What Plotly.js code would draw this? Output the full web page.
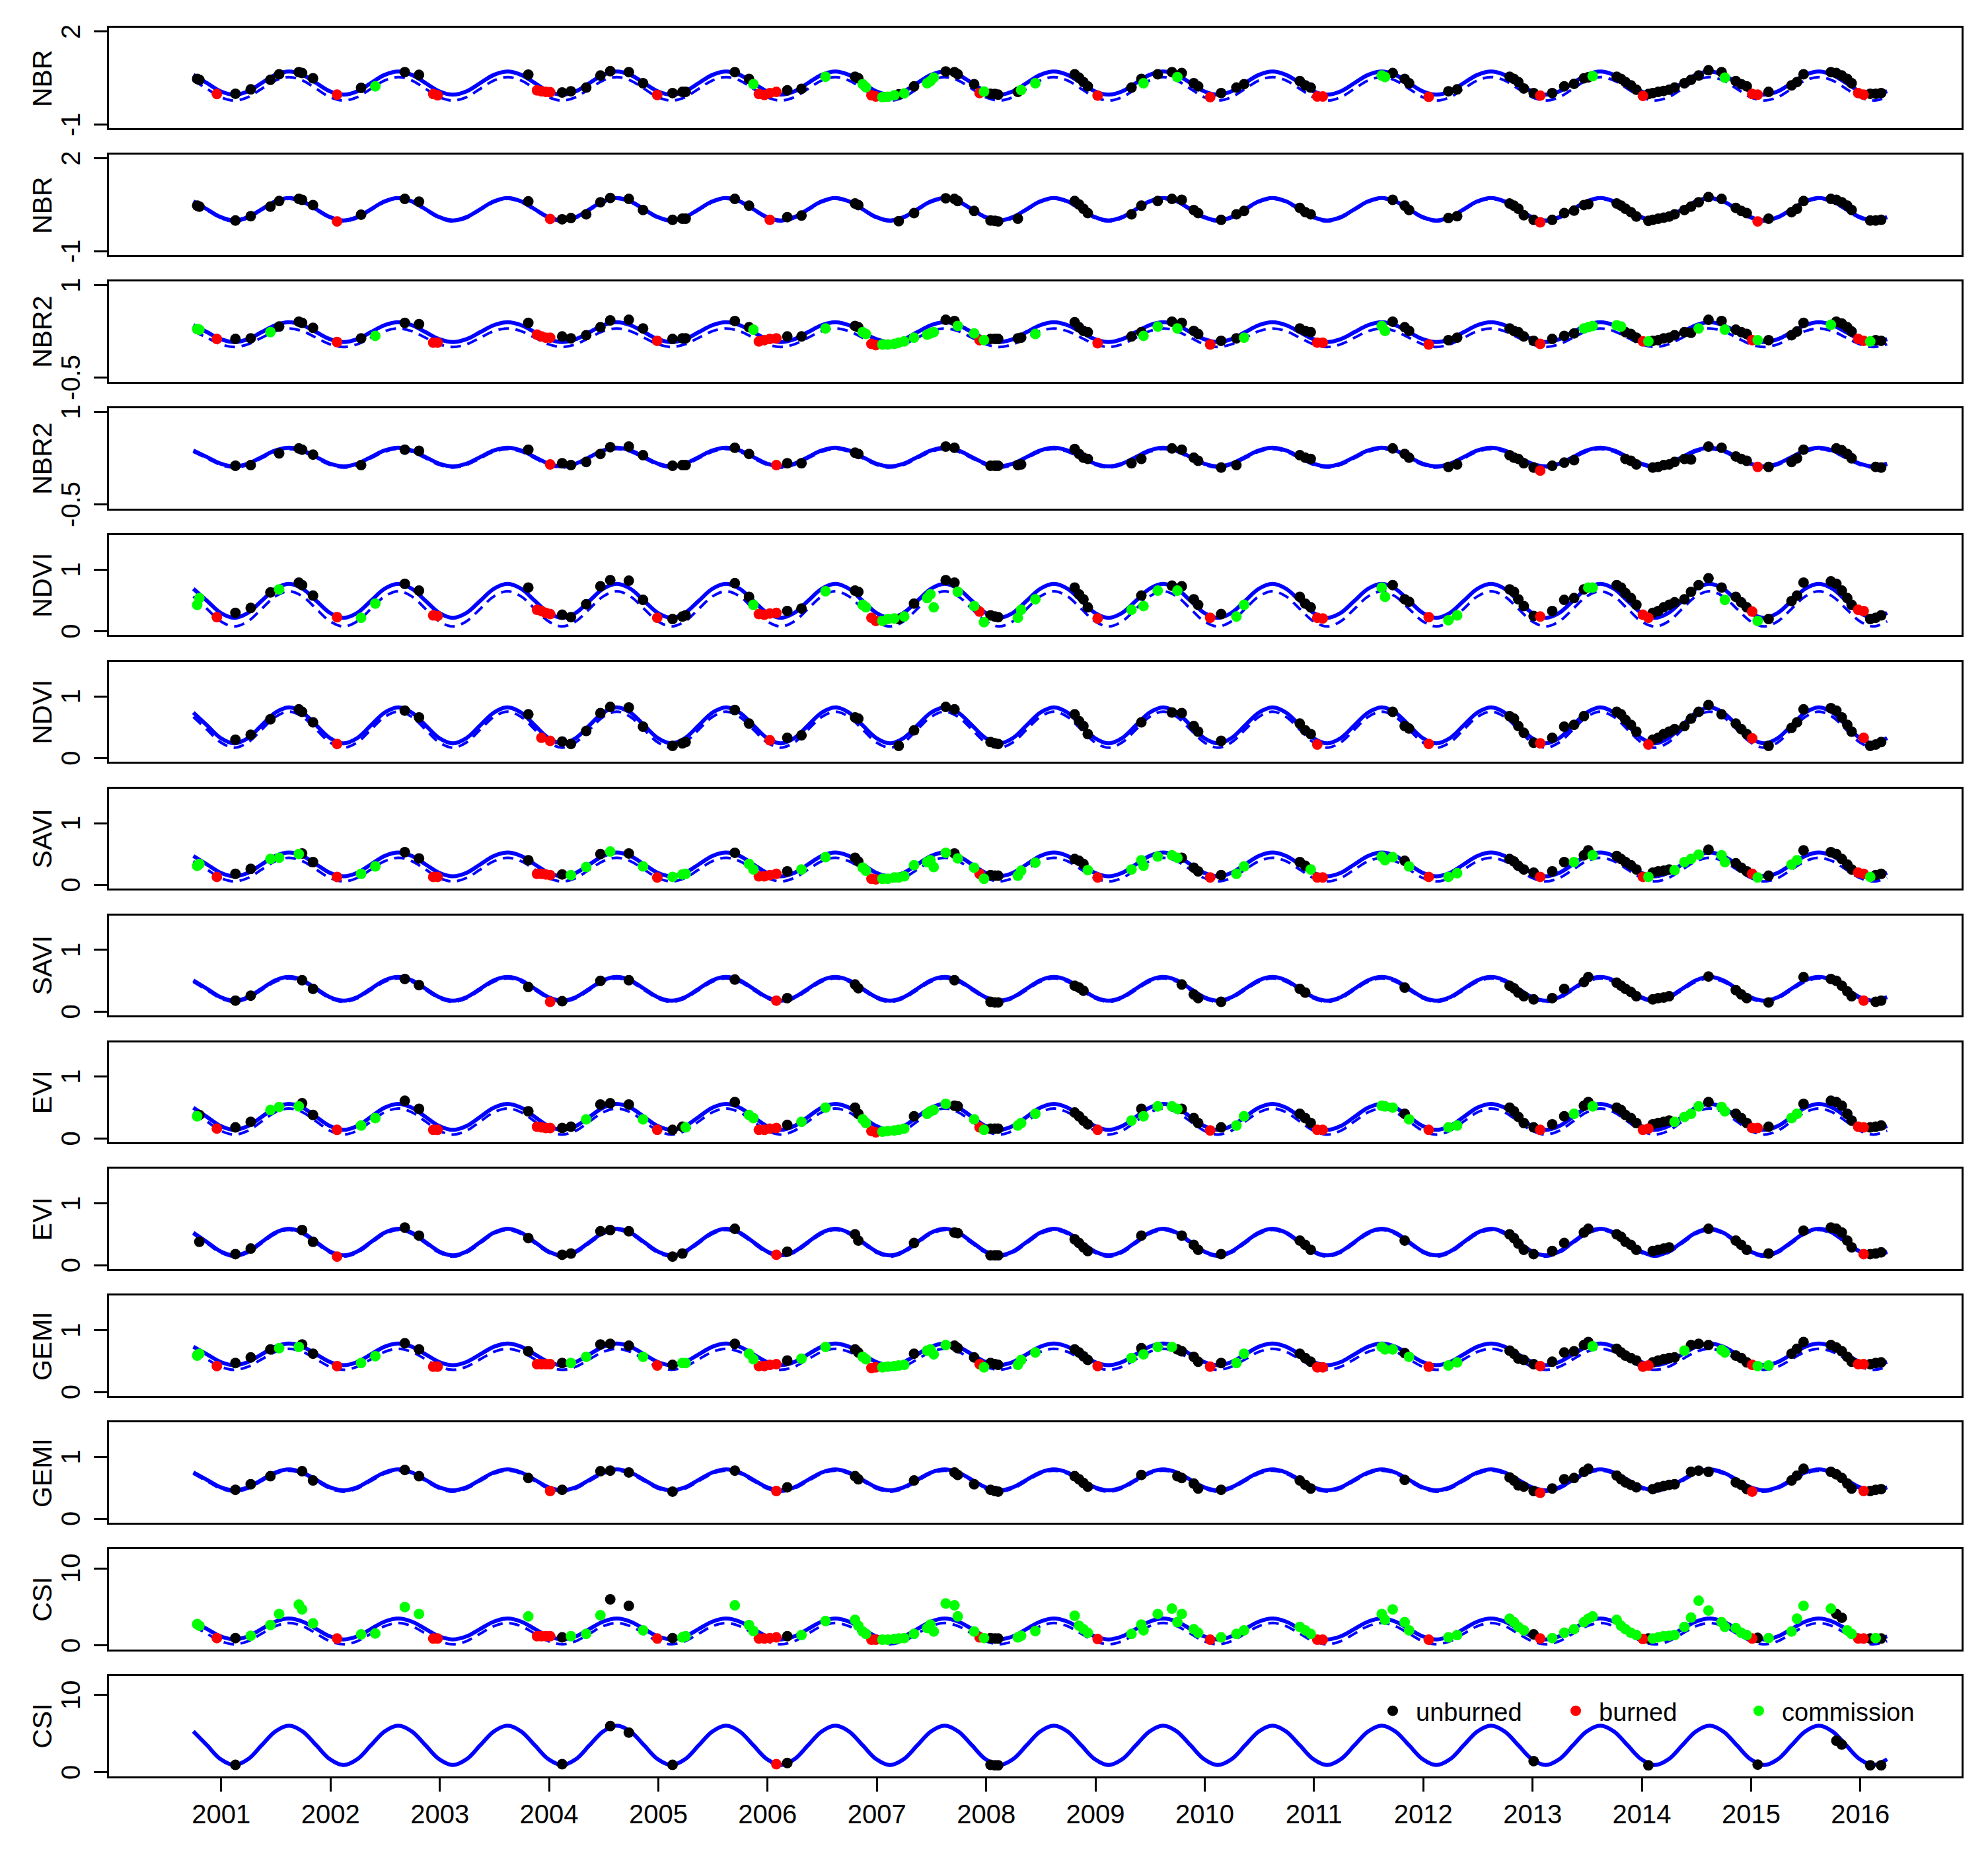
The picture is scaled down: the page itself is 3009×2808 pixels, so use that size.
<!DOCTYPE html>
<html><head><meta charset="utf-8">
<script src="https://cdn.plot.ly/plotly-3.0.1.min.js"></script>
<style>html,body{margin:0;padding:0;background:#fff;overflow:hidden}</style>
</head><body>
<div id="chart" style="width:3009px;height:2808px"></div>
<script>
// ---------------- DATA ----------------
const YEARS = [2001,2002,2003,2004,2005,2006,2007,2008,2009,2010,2011,2012,2013,2014,2015,2016];
const PANEL_LABELS = ["NBR","NBR","NBR2","NBR2","NDVI","NDVI","SAVI","SAVI","EVI","EVI","GEMI","GEMI","CSI","CSI"];
const LEGEND_NAMES = ["unburned","burned","commission"];

// observation dates (decimal years)
const DATES = [2000.78,2000.80,2000.96,2001.13,2001.27,2001.45,2001.53,2001.71,2001.74,2001.84,
2002.06,2002.28,2002.41,2002.68,2002.81,2002.94,2002.98,2003.81,2003.89,2003.93,
2003.97,2004.01,2004.12,2004.20,2004.34,2004.47,2004.56,2004.73,2004.86,2004.99,
2005.13,2005.22,2005.25,2005.70,2005.83,2005.87,2005.92,2005.97,2006.02,2006.08,
2006.18,2006.31,2006.53,2006.80,2006.83,2006.87,2006.90,2006.95,2006.99,2007.05,
2007.10,2007.16,2007.20,2007.25,2007.34,2007.46,2007.49,2007.52,2007.63,2007.71,
2007.74,2007.89,2007.94,2007.98,2008.04,2008.08,2008.11,2008.29,2008.32,2008.45,
2008.81,2008.85,2008.89,2008.93,2009.02,2009.33,2009.42,2009.44,2009.57,2009.70,
2009.75,2009.79,2009.90,2009.94,2010.05,2010.15,2010.29,2010.36,2010.87,2010.92,
2010.97,2011.03,2011.08,2011.62,2011.65,2011.72,2011.83,2011.87,2012.05,2012.23,
2012.31,2012.79,2012.83,2012.87,2012.92,2013.01,2013.07,2013.18,2013.29,2013.38,
2013.47,2013.51,2013.55,2013.77,2013.81,2013.85,2013.90,2013.95,2014.01,2014.06,
2014.10,2014.15,2014.20,2014.25,2014.30,2014.39,2014.45,2014.52,2014.61,2014.73,
2014.76,2014.86,2014.91,2014.96,2015.01,2015.06,2015.16,2015.37,2015.42,2015.48,
2015.73,2015.78,2015.83,2015.88,2015.92,2015.98,2016.03,2016.09,2016.14,2016.19];

// class per observation: u = unburned, b = burned, c = commission
const NBR_CLASS  = "uubuuuuuuu bucuubbubb bbuuuuuuub uuuuucbbbb uucuuccbbc ccucucccuu uubcuuuucc uuuubuucuu cuuubuuuuu ubbccuuubu uuuuuubuuu uucuuuuubu uuuuuuuuuu cuuubbuuuu uuuuubbuuu";
const NBR2_CLASS = "ccbuucuuuu bucuubbubb bbuuuuuuub uuuuucbbbb uucuuccbbc ccccccccuu ccbcuuuuuc uuuubuuccu cuuubuucuu ubbccuuubu uuuuuubuuu cccccuuubc uuuuuuucuu cuuubcuuuu cuuuubbcuu";
const NDVI_CLASS = "ccbuuucuuu bccuubbubb bbuuuuuuub uuuuucbbbb uucuuccbbc ccucucccuu ccbcuuuccc uuuubcuccu cuuubuccuu ubbccuuubc cuuuuubuuu uccuuuuubb uuuuuuuuuu cuuubcuuuu uuuuubbuuu";
const SAVI_CLASS = "ccbuucccuu bccuubbubb bbuccucucb cccuccbbbb uccuuccbbc cccccccccu ccbcuuuccc uuucbccccc cuuubuccuu cbbcccucbc cuuuuubuuc uucuuuuubc uuuuccccuc cuuubcuccu uuuuubbcuu";
const EVI_CLASS  = "cubuucccuu bccuubbubb bbuucuuucb uucuccbbbb uccuuccbbc ccccuccccu ucbcuuuccc uuuubcuccc cuuubuccuu ubbcccucbc cuuuuubuuc uucuuuuubb uuuuccccuc cuuubbuccu uuuuubbuuu";
const GEMI_CLASS = "ccbuuuccuu bccuubbubb bbuccuuucb uccuccbbbb uccuuccbbc ccccuccccu uubcuuuccc uuuubcuccc uuuubuccuu ubbcccucbc cuuuuubuuu uucuuuuubb uuuuucuuuc cuuubccuuu uuuuubbuuu";
const CSI_CLASS  = "ccbucccccc bccccbbcbb bbucccuucb ucccccbbbb uccccccbbc cccccccccc ccbcuuuccc ccccbccccc ccccbccccc cbbcccccbc cccccubccc ccccccccbu cccccccccc ccccbucccc cuuccbbucu";

const NBR_VALUES = [0.47,0.44,-0.02,-0.01,0.13,0.44,0.62,0.69,0.66,0.49,
-0.04,0.18,0.23,0.69,0.60,-0.02,-0.06,0.61,0.10,0.07,
0.05,0.04,0.03,0.07,0.19,0.58,0.72,0.69,0.33,-0.05,
0.01,0.05,0.05,0.69,0.47,0.30,-0.02,-0.05,0.01,0.05,
0.10,0.15,0.54,0.54,0.49,0.30,0.20,-0.06,-0.10,-0.12,
-0.11,-0.06,-0.03,0.00,0.23,0.33,0.40,0.51,0.71,0.69,
0.62,0.30,0.01,0.06,-0.01,-0.02,-0.04,0.05,0.11,0.33,
0.62,0.51,0.37,0.23,-0.07,0.19,0.47,0.33,0.62,0.69,
0.53,0.66,0.33,0.23,-0.12,0.01,0.19,0.30,0.40,0.26,
0.19,-0.10,-0.10,0.58,0.53,0.66,0.47,0.33,-0.11,0.07,
0.13,0.54,0.47,0.37,0.16,0.01,-0.07,0.01,0.23,0.31,
0.49,0.52,0.56,0.54,0.47,0.37,0.26,0.12,-0.08,-0.02,
0.01,0.05,0.08,0.12,0.19,0.33,0.44,0.58,0.75,0.69,
0.51,0.40,0.30,0.23,-0.02,-0.04,0.05,0.26,0.37,0.62,
0.69,0.66,0.58,0.47,0.33,0.01,-0.04,-0.01,-0.01,0.01];

const NBR2_VALUES = [0.29,0.28,0.13,0.13,0.14,0.24,0.33,0.41,0.39,0.31,
0.08,0.14,0.18,0.39,0.37,0.07,0.07,0.39,0.20,0.17,
0.15,0.15,0.17,0.14,0.19,0.32,0.43,0.44,0.30,0.10,
0.13,0.14,0.14,0.42,0.32,0.28,0.09,0.11,0.13,0.14,
0.17,0.17,0.30,0.34,0.32,0.24,0.21,0.05,0.03,0.04,
0.04,0.05,0.07,0.09,0.15,0.20,0.22,0.24,0.44,0.42,
0.34,0.22,0.11,0.11,0.13,0.13,0.13,0.14,0.15,0.21,
0.40,0.32,0.26,0.24,0.06,0.17,0.24,0.18,0.33,0.41,
0.30,0.39,0.26,0.21,0.04,0.10,0.14,0.15,0.30,0.26,
0.24,0.07,0.07,0.34,0.26,0.41,0.32,0.26,0.04,0.11,
0.15,0.30,0.26,0.24,0.17,0.10,0.05,0.13,0.18,0.22,
0.30,0.32,0.34,0.35,0.33,0.24,0.21,0.15,0.09,0.09,
0.10,0.11,0.14,0.15,0.19,0.24,0.23,0.30,0.44,0.42,
0.28,0.28,0.24,0.21,0.11,0.11,0.11,0.19,0.25,0.39,
0.36,0.41,0.38,0.32,0.25,0.13,0.10,0.09,0.11,0.10];

const NDVI_VALUES = [0.43,0.54,0.23,0.30,0.38,0.63,0.68,0.79,0.75,0.58,
0.23,0.22,0.45,0.77,0.66,0.26,0.25,0.71,0.35,0.33,
0.30,0.28,0.27,0.23,0.44,0.73,0.83,0.82,0.51,0.22,
0.20,0.24,0.26,0.78,0.56,0.43,0.28,0.27,0.29,0.30,
0.33,0.37,0.65,0.66,0.64,0.43,0.39,0.22,0.17,0.17,
0.20,0.21,0.20,0.24,0.45,0.54,0.60,0.39,0.83,0.79,
0.64,0.41,0.32,0.15,0.26,0.24,0.23,0.22,0.35,0.52,
0.71,0.60,0.52,0.39,0.21,0.35,0.58,0.41,0.66,0.74,
0.66,0.73,0.52,0.43,0.22,0.28,0.24,0.43,0.56,0.45,
0.39,0.22,0.21,0.71,0.56,0.75,0.52,0.48,0.23,0.18,
0.26,0.68,0.64,0.52,0.41,0.25,0.24,0.33,0.51,0.54,
0.68,0.71,0.71,0.75,0.71,0.62,0.54,0.43,0.27,0.22,
0.30,0.33,0.39,0.43,0.47,0.52,0.64,0.75,0.86,0.71,
0.51,0.56,0.47,0.39,0.32,0.17,0.20,0.49,0.58,0.79,
0.81,0.77,0.66,0.54,0.43,0.35,0.33,0.20,0.22,0.26];

const SAVI_VALUES = [0.31,0.34,0.13,0.18,0.26,0.42,0.44,0.50,0.51,0.37,
0.13,0.18,0.30,0.53,0.43,0.13,0.13,0.40,0.18,0.18,
0.17,0.16,0.17,0.16,0.29,0.50,0.54,0.51,0.30,0.12,
0.13,0.17,0.18,0.52,0.34,0.25,0.14,0.14,0.16,0.18,
0.22,0.25,0.45,0.44,0.38,0.28,0.23,0.10,0.09,0.10,
0.10,0.12,0.12,0.14,0.32,0.37,0.40,0.29,0.52,0.51,
0.43,0.28,0.18,0.10,0.16,0.15,0.15,0.15,0.23,0.36,
0.42,0.39,0.34,0.24,0.12,0.25,0.40,0.31,0.46,0.48,
0.44,0.44,0.28,0.22,0.12,0.16,0.18,0.30,0.37,0.31,
0.25,0.12,0.12,0.46,0.40,0.45,0.39,0.30,0.13,0.13,
0.19,0.42,0.38,0.31,0.25,0.20,0.13,0.22,0.37,0.37,
0.48,0.56,0.48,0.47,0.42,0.37,0.32,0.25,0.13,0.13,
0.20,0.22,0.23,0.25,0.24,0.37,0.42,0.49,0.57,0.48,
0.37,0.35,0.28,0.22,0.18,0.12,0.15,0.33,0.40,0.56,
0.53,0.50,0.42,0.33,0.25,0.20,0.18,0.13,0.16,0.18];

const EVI_VALUES = [0.36,0.38,0.16,0.18,0.27,0.46,0.51,0.52,0.57,0.38,
0.14,0.21,0.33,0.61,0.48,0.14,0.14,0.44,0.19,0.18,
0.17,0.17,0.17,0.19,0.31,0.55,0.57,0.55,0.31,0.14,
0.14,0.19,0.18,0.59,0.38,0.33,0.14,0.14,0.16,0.17,
0.22,0.27,0.50,0.50,0.40,0.31,0.25,0.12,0.10,0.11,
0.12,0.13,0.14,0.16,0.36,0.40,0.44,0.46,0.56,0.53,
0.52,0.31,0.18,0.14,0.16,0.16,0.16,0.21,0.25,0.40,
0.42,0.36,0.29,0.23,0.14,0.29,0.48,0.36,0.52,0.52,
0.48,0.48,0.33,0.25,0.13,0.18,0.21,0.36,0.40,0.33,
0.25,0.14,0.14,0.53,0.52,0.50,0.40,0.31,0.14,0.18,
0.21,0.50,0.44,0.35,0.25,0.18,0.14,0.23,0.36,0.40,
0.53,0.59,0.52,0.50,0.46,0.38,0.33,0.25,0.14,0.16,
0.23,0.25,0.27,0.29,0.27,0.35,0.40,0.52,0.59,0.51,
0.44,0.40,0.33,0.25,0.17,0.17,0.19,0.33,0.40,0.56,
0.61,0.59,0.53,0.40,0.29,0.19,0.18,0.18,0.19,0.21];

const GEMI_VALUES = [0.59,0.62,0.42,0.47,0.56,0.69,0.71,0.73,0.77,0.62,
0.42,0.47,0.58,0.79,0.69,0.41,0.41,0.66,0.45,0.45,
0.45,0.45,0.47,0.47,0.57,0.77,0.78,0.75,0.57,0.43,
0.44,0.47,0.47,0.78,0.62,0.53,0.42,0.42,0.44,0.45,
0.51,0.54,0.73,0.69,0.64,0.57,0.53,0.39,0.40,0.40,
0.41,0.42,0.43,0.44,0.62,0.67,0.69,0.61,0.76,0.75,
0.71,0.56,0.45,0.40,0.47,0.45,0.44,0.44,0.52,0.64,
0.69,0.64,0.58,0.52,0.42,0.55,0.71,0.61,0.73,0.73,
0.69,0.66,0.57,0.49,0.41,0.47,0.47,0.62,0.62,0.55,
0.49,0.40,0.40,0.73,0.69,0.69,0.63,0.57,0.41,0.43,
0.48,0.67,0.62,0.54,0.52,0.45,0.42,0.49,0.64,0.66,
0.76,0.81,0.74,0.70,0.64,0.59,0.55,0.51,0.41,0.43,
0.48,0.51,0.53,0.55,0.56,0.67,0.76,0.78,0.76,0.68,
0.64,0.59,0.55,0.48,0.44,0.42,0.43,0.62,0.70,0.81,
0.76,0.72,0.66,0.57,0.49,0.45,0.45,0.45,0.47,0.48];

const CSI_VALUES = [2.78,2.57,0.97,0.97,1.27,2.66,4.09,5.30,4.69,2.88,
0.91,1.45,1.57,4.99,4.09,0.91,0.91,3.78,1.21,1.21,
1.21,1.21,1.06,1.21,1.51,3.93,5.99,5.15,1.97,0.91,
0.97,1.06,1.21,5.21,2.66,1.88,0.91,0.91,0.97,1.06,
1.21,1.36,3.18,3.33,2.57,1.82,1.51,0.76,0.76,0.76,
0.76,0.85,0.91,0.97,1.51,2.27,2.72,1.82,5.45,5.21,
3.78,1.82,1.06,0.97,0.97,0.91,0.91,1.06,1.27,1.88,
3.87,2.57,2.12,1.66,0.85,1.51,2.72,1.97,4.09,4.78,
3.03,4.09,2.12,1.66,0.76,1.06,1.51,1.97,2.42,1.97,
1.51,0.76,0.76,4.09,3.33,4.69,3.03,1.97,0.76,1.06,
1.36,3.48,3.03,2.42,1.97,1.45,0.91,0.97,1.66,2.12,
3.03,3.48,3.78,3.33,2.57,2.12,1.66,1.36,0.85,0.91,
0.91,1.06,1.21,1.27,1.36,2.42,3.63,5.81,4.54,3.03,
2.42,2.27,1.66,1.36,0.91,1.00,0.97,1.82,3.48,5.15,
4.78,4.09,3.60,1.97,1.51,0.91,0.91,0.91,0.97,0.91];

// burned observations kept in the second (re-fitted) panel of each index (1-based)
const NBR_FIT_BURNED  = [11,22,39,107,136];
const NBR2_FIT_BURNED = [22,40,107,136];
const NDVI_FIT_BURNED = [11,20,22,39,92,99,107,120,135,147];
const SAVI_FIT_BURNED = [22,40,147];
const EVI_FIT_BURNED  = [11,40,147];
const GEMI_FIT_BURNED = [22,40,107,135,147];
const CSI_FIT_BURNED  = [40];

// seasonal model curves read as levels: [trough, lower-mid, mid, upper-mid, peak]
const NBR_ALL_SOLID  = [-0.04,0.07,0.335,0.60,0.71];
const NBR_ALL_DASH   = [-0.23,-0.12,0.15,0.42,0.53];
const NBR_FIT_SOLID  = [-0.01,0.10,0.355,0.61,0.72];
const NBR_FIT_DASH   = [-0.04,0.07,0.325,0.58,0.69];
const NBR2_ALL_SOLID = [0.08,0.127,0.24,0.353,0.40];
const NBR2_ALL_DASH  = [0.00,0.044,0.15,0.256,0.30];
const NBR2_FIT_SOLID = [0.12,0.164,0.27,0.376,0.42];
const NBR2_FIT_DASH  = [0.10,0.144,0.25,0.356,0.40];
const NDVI_ALL_SOLID = [0.22,0.30,0.495,0.69,0.77];
const NDVI_ALL_DASH  = [0.08,0.164,0.365,0.566,0.65];
const NDVI_FIT_SOLID = [0.24,0.326,0.532,0.738,0.824];
const NDVI_FIT_DASH  = [0.17,0.256,0.462,0.668,0.754];
const SAVI_ALL_SOLID = [0.14,0.196,0.333,0.469,0.525];
const SAVI_ALL_DASH  = [0.057,0.113,0.249,0.384,0.44];
const SAVI_FIT_SOLID = [0.18,0.236,0.372,0.508,0.564];
const SAVI_FIT_DASH  = [0.16,0.216,0.35,0.484,0.54];
const EVI_ALL_SOLID  = [0.14,0.202,0.35,0.498,0.56];
const EVI_ALL_DASH   = [0.064,0.126,0.275,0.424,0.486];
const EVI_FIT_SOLID  = [0.16,0.223,0.375,0.527,0.59];
const EVI_FIT_DASH   = [0.14,0.203,0.355,0.507,0.57];
const GEMI_ALL_SOLID = [0.435,0.486,0.61,0.733,0.784];
const GEMI_ALL_DASH  = [0.36,0.41,0.53,0.65,0.70];
const GEMI_FIT_SOLID = [0.46,0.51,0.63,0.75,0.80];
const GEMI_FIT_DASH  = [0.44,0.49,0.61,0.73,0.78];
const CSI_ALL_SOLID  = [0.8,1.196,2.15,3.104,3.5];
const CSI_ALL_DASH   = [0.17,0.573,1.545,2.517,2.92];
const CSI_FIT_SOLID  = [0.95,1.697,3.5,5.303,6.05];
const CSI_FIT_DASH   = [0.9,1.647,3.45,5.253,6.0];

// curve sample grid: eighth-year steps, level index pattern over one season
const CURVE_START = 2000.745, CURVE_STEP = 0.125, CURVE_N = 125;
const CURVE_PATTERN = [3,2,1,0,1,2,3,4];

// y axes: limits and tick marks
const YLIMS = {NBR:[-1,2], NBR2:[-0.5,1], NDVI:[0,1.5], SAVI:[0,1.5], EVI:[0,1.5], GEMI:[0,1.5], CSI:[0,12]};
const YTICKS = {NBR:[-1,2], NBR2:[-0.5,1], NDVI:[0,1], SAVI:[0,1], EVI:[0,1], GEMI:[0,1], CSI:[0,10]};

// ---------------- BUILD ----------------
const W = 3009, H = 2808;
const FONT = "Liberation Sans, Arial, Helvetica, sans-serif";
const COLORS = {u:"#000000", b:"#FF0000", c:"#00FF00"};
const XL = 165.3, XR = 2969;
const TOP0 = 42.3, PITCH = 191.9, PH = 151.5;
const YLABEL_X = 107, YTITLE_X = 64;

const clean = s => s.replace(/\s+/g, "");
const indexSets = [
  {key:"NBR",  cls:clean(NBR_CLASS),  vals:NBR_VALUES,  fitB:NBR_FIT_BURNED,  curves:[NBR_ALL_SOLID,NBR_ALL_DASH,NBR_FIT_SOLID,NBR_FIT_DASH]},
  {key:"NBR2", cls:clean(NBR2_CLASS), vals:NBR2_VALUES, fitB:NBR2_FIT_BURNED, curves:[NBR2_ALL_SOLID,NBR2_ALL_DASH,NBR2_FIT_SOLID,NBR2_FIT_DASH]},
  {key:"NDVI", cls:clean(NDVI_CLASS), vals:NDVI_VALUES, fitB:NDVI_FIT_BURNED, curves:[NDVI_ALL_SOLID,NDVI_ALL_DASH,NDVI_FIT_SOLID,NDVI_FIT_DASH]},
  {key:"SAVI", cls:clean(SAVI_CLASS), vals:SAVI_VALUES, fitB:SAVI_FIT_BURNED, curves:[SAVI_ALL_SOLID,SAVI_ALL_DASH,SAVI_FIT_SOLID,SAVI_FIT_DASH]},
  {key:"EVI",  cls:clean(EVI_CLASS),  vals:EVI_VALUES,  fitB:EVI_FIT_BURNED,  curves:[EVI_ALL_SOLID,EVI_ALL_DASH,EVI_FIT_SOLID,EVI_FIT_DASH]},
  {key:"GEMI", cls:clean(GEMI_CLASS), vals:GEMI_VALUES, fitB:GEMI_FIT_BURNED, curves:[GEMI_ALL_SOLID,GEMI_ALL_DASH,GEMI_FIT_SOLID,GEMI_FIT_DASH]},
  {key:"CSI",  cls:clean(CSI_CLASS),  vals:CSI_VALUES,  fitB:CSI_FIT_BURNED,  curves:[CSI_ALL_SOLID,CSI_ALL_DASH,CSI_FIT_SOLID,CSI_FIT_DASH]}
];

const curveT = [];
for (let i = 0; i < CURVE_N; i++) curveT.push(+(CURVE_START + i*CURVE_STEP).toFixed(3));
const curveY = lv => curveT.map((t,i) => lv[CURVE_PATTERN[i % 8]]);

const traces = [];
const layout = {
  width: W, height: H, margin:{l:0,r:0,t:0,b:0,autoexpand:false},
  paper_bgcolor:"#fff", plot_bgcolor:"#fff",
  font:{family:FONT, size:40, color:"#000"},
  showlegend:true,
  legend:{orientation:"h", x:2073/W, xanchor:"left", y:1-2590/H, yanchor:"middle",
          font:{family:FONT, size:38, color:"#000"}, bgcolor:"rgba(0,0,0,0)",
          itemwidth:60, entrywidth:202, entrywidthmode:"pixels", itemclick:false, traceorder:"normal"},
  annotations:[]
};

for (let p = 0; p < 14; p++) {
  const set = indexSets[Math.floor(p/2)];
  const isFit = (p % 2) === 1;
  const n = p + 1;
  const xa = n === 1 ? "x" : "x"+n, ya = n === 1 ? "y" : "y"+n;
  const top = TOP0 + PITCH*p, bot = top + PH;

  const solid = isFit ? set.curves[2] : set.curves[0];
  const dash  = isFit ? set.curves[3] : set.curves[1];
  traces.push({type:"scatter", mode:"lines", x:curveT, y:curveY(dash), xaxis:xa, yaxis:ya,
    line:{color:"#0000FF", width:4, dash:"16px,10px", shape:"spline", smoothing:1}, showlegend:false, hoverinfo:"skip"});
  traces.push({type:"scatter", mode:"lines", x:curveT, y:curveY(solid), xaxis:xa, yaxis:ya,
    line:{color:"#0000FF", width:6, shape:"spline", smoothing:1}, showlegend:false, hoverinfo:"skip"});

  ["u","b","c"].forEach((k, ki) => {
    const xs = [], ys = [];
    for (let i = 0; i < DATES.length; i++) {
      const c = set.cls[i];
      let show;
      if (!isFit) show = (c === k);
      else if (k === "u") show = (c === "u");
      else if (k === "b") show = set.fitB.includes(i+1);
      else show = false;
      if (show) { xs.push(DATES[i]); ys.push(set.vals[i]); }
    }
    traces.push({type:"scatter", mode:"markers", x:xs, y:ys, xaxis:xa, yaxis:ya,
      name:LEGEND_NAMES[ki], legendgroup:k, showlegend:(p === 0),
      marker:{color:COLORS[k], size:16, line:{width:0}}, hoverinfo:"skip"});
  });

  const lim = YLIMS[set.key];
  const ext = 0.04*(lim[1]-lim[0]);
  const ticks = YTICKS[set.key];
  const isLast = (p === 13);
  layout[n === 1 ? "xaxis" : "xaxis"+n] = {
    domain:[XL/W, XR/W], anchor:ya, range:[1999.975, 2016.926],
    showline:true, mirror:true, linecolor:"#000", linewidth:3,
    showgrid:false, zeroline:false, fixedrange:true, automargin:false,
    ticks: isLast ? "outside" : "", ticklen:20, tickwidth:3, tickcolor:"#000",
    tickmode:"array", tickvals: YEARS, ticktext: YEARS.map(String),
    showticklabels:isLast, ticklabelstandoff:0,
    tickfont:{family:FONT, size:40, color:"#000"}
  };
  layout[n === 1 ? "yaxis" : "yaxis"+n] = {
    domain:[1 - bot/H, 1 - top/H], anchor:xa, range:[lim[0]-ext, lim[1]+ext],
    showline:true, mirror:true, linecolor:"#000", linewidth:3,
    showgrid:false, zeroline:false, fixedrange:true, automargin:false,
    ticks:"outside", ticklen:20, tickwidth:3, tickcolor:"#000",
    tickmode:"array", tickvals:ticks, showticklabels:false
  };
  // rotated y tick labels (parallel to the axis, as in the original)
  ticks.forEach(v => layout.annotations.push({xref:"paper", yref:ya, x:YLABEL_X/W, y:v,
    xanchor:"center", yanchor:"middle", text:String(v), textangle:-90, showarrow:false,
    font:{family:FONT, size:40, color:"#000"}}));
  layout.annotations.push({xref:"paper", yref:"paper", x:YTITLE_X/W, y:1-(top+bot)/2/H,
    xanchor:"center", yanchor:"middle", text:PANEL_LABELS[p], textangle:-90, showarrow:false,
    font:{family:FONT, size:41, color:"#000"}});
}

Plotly.newPlot("chart", traces, layout, {staticPlot:true, displayModeBar:false});
</script>
</body></html>
